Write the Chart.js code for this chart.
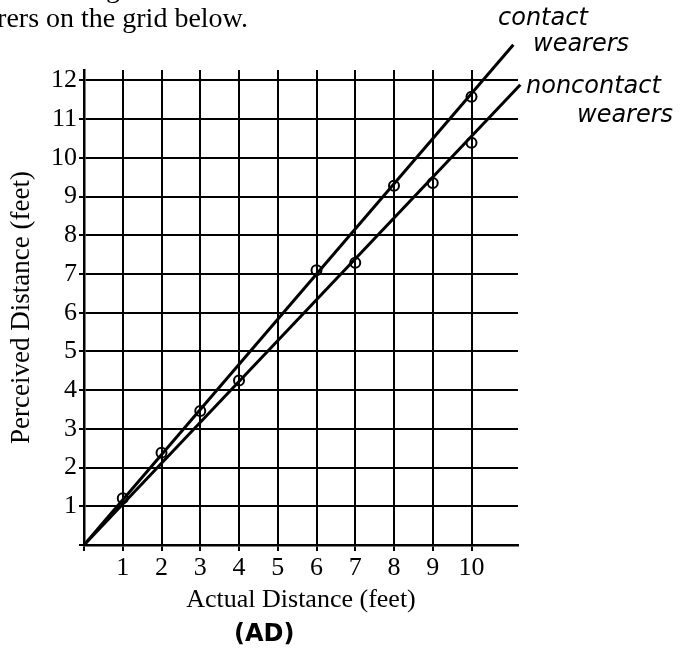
<!DOCTYPE html>
<html>
<head>
<meta charset="utf-8">
<script src="https://cdn.jsdelivr.net/npm/chart.js@4.4.1/dist/chart.umd.min.js"></script>
<style>
body { margin: 0; background: #fff; }
#wrap { position: relative; width: 694px; height: 650px; overflow: hidden; }
canvas { position: absolute; left: 0; top: 0; }
.note { position: absolute; white-space: nowrap; font-family: "Liberation Serif"; font-size: 28px; color: #000; }
.hand { position: absolute; white-space: nowrap; font-family: "DejaVu Sans"; font-style: italic; font-size: 24px; color: #000; }
</style>
</head>
<body>
<div id="wrap">
  <canvas id="G1" width="694" height="650"></canvas>
  <div class="note" style="left:-30px; top:-28px;">estimated regression lines for contact wearers and the estimated line for noncontact</div>
  <div class="note" style="right:446px; top:2px;">wearers on the grid below.</div>
  <div class="hand" style="left:498px; top:3px;">contact</div>
  <div class="hand" style="left:533px; top:29px;">wearers</div>
  <div class="hand" style="left:526px; top:71px;">noncontact</div>
  <div class="hand" style="left:577px; top:100px;">wearers</div>
  <div class="hand" style="left:234px; top:619px; font-style:normal; font-weight:bold;">(AD)</div>
</div>
<script>
// plotted points
const actualContact = [1, 3, 6, 8, 10];
const perceivedContact = [1.21, 3.46, 7.1, 9.28, 11.58];
const actualNoncontact = [2, 4, 7, 9, 10];
const perceivedNoncontact = [2.38, 4.25, 7.29, 9.35, 10.39];

// hand drawn fit lines (start / end)
const contactLineX = [0, 11.08];
const contactLineY = [0, 12.92];
const noncontactLineX = [0, 11.26];
const noncontactLineY = [0, 11.89];

const xTicks = [0, 1, 2, 3, 4, 5, 6, 7, 8, 9, 10];
const yTicks = [0, 1, 2, 3, 4, 5, 6, 7, 8, 9, 10, 11, 12];

function pairs(xs, ys) {
    return xs.map((x, i) => ({x: x, y: ys[i]}));
}

const serif = "Liberation Serif";

new Chart(document.getElementById("G1"), {
    type: 'scatter',
    data: {
        datasets: [
            {
                label: 'contact wearers fit',
                data: pairs(contactLineX, contactLineY),
                showLine: true,
                borderColor: '#000',
                borderWidth: 3,
                pointRadius: 0,
                clip: false
            },
            {
                label: 'noncontact wearers fit',
                data: pairs(noncontactLineX, noncontactLineY),
                showLine: true,
                borderColor: '#000',
                borderWidth: 3,
                pointRadius: 0,
                clip: false
            },
            {
                label: 'contact wearers',
                data: pairs(actualContact, perceivedContact),
                borderColor: '#000',
                backgroundColor: 'rgba(0,0,0,0)',
                pointRadius: 5,
                pointBorderWidth: 2
            },
            {
                label: 'noncontact wearers',
                data: pairs(actualNoncontact, perceivedNoncontact),
                borderColor: '#000',
                backgroundColor: 'rgba(0,0,0,0)',
                pointRadius: 5,
                pointBorderWidth: 2
            }
        ]
    },
    options: {
        responsive: false,
        animation: false,
        devicePixelRatio: 1,
        layout: { padding: { top: 70, right: 176, left: 0, bottom: 0 } },
        plugins: { legend: { display: false }, tooltip: { enabled: false } },
        scales: {
            x: {
                type: 'linear',
                min: 0,
                max: 11.2,
                afterBuildTicks: s => { s.ticks = xTicks.map(v => ({value: v})); },
                afterFit: s => { s.height = 105; },
                grid: { color: '#000', lineWidth: 2, tickLength: 6, tickColor: '#000' },
                border: { color: '#000', width: 2.5 },
                ticks: {
                    color: '#000',
                    padding: 2,
                    maxRotation: 0,
                    autoSkip: false,
                    font: { family: serif, size: 26 },
                    callback: v => v === 0 ? '' : v
                },
                title: {
                    display: true,
                    text: 'Actual Distance (feet)',
                    color: '#000',
                    font: { family: serif, size: 26 },
                    padding: { top: 0, bottom: 34 }
                }
            },
            y: {
                type: 'linear',
                min: 0,
                max: 12.27,
                afterBuildTicks: s => { s.ticks = yTicks.map(v => ({value: v})); },
                afterFit: s => { s.width = 84; },
                grid: { color: '#000', lineWidth: 2, tickLength: 5, tickColor: '#000' },
                border: { color: '#000', width: 2.5 },
                ticks: {
                    color: '#000',
                    padding: 2,
                    autoSkip: false,
                    font: { family: serif, size: 26 },
                    callback: v => v === 0 ? '' : v
                },
                title: {
                    display: true,
                    text: 'Perceived Distance (feet)',
                    color: '#000',
                    font: { family: serif, size: 27 },
                    padding: { top: 6, bottom: 0 }
                }
            }
        }
    }
});
</script>
</body>
</html>
